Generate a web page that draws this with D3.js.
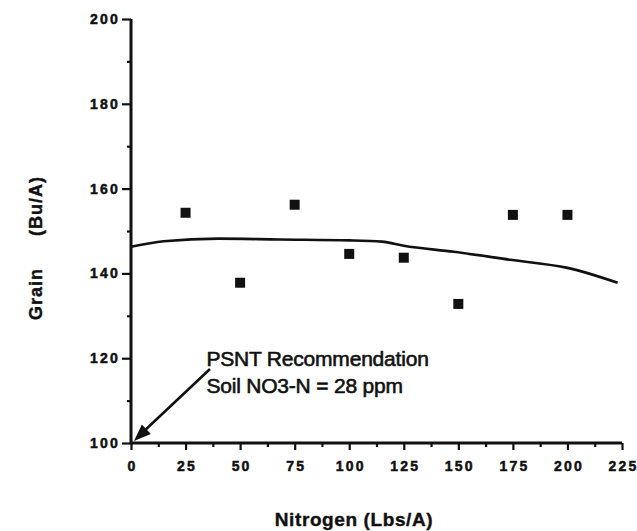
<!DOCTYPE html>
<html><head><meta charset="utf-8">
<script src="https://cdn.jsdelivr.net/npm/d3@7"></script>
<style>body{margin:0;background:#fff}svg{display:block}</style>
</head><body>
<svg id="c" width="637" height="531"></svg>
<script>
const nitrogenRates = [25, 50, 75, 100, 125, 150, 175, 200];
const grainYield = [154.3, 137.8, 156.2, 144.6, 143.7, 132.8, 153.8, 153.8];
const curveN = [0, 15, 40, 68, 100, 115, 125, 148, 174, 200, 223];
const curveYield = [146.3, 147.6, 148.2, 148.0, 147.8, 147.5, 146.5, 145.1, 143.2, 141.3, 137.8];
const xTicks = [0, 25, 50, 75, 100, 125, 150, 175, 200, 225];
const yTicks = [100, 120, 140, 160, 180, 200];
const annotationLines = ["PSNT Recommendation", "Soil NO3-N = 28 ppm"];
const yTitleParts = ["Grain", "(Bu/A)"];
const xTitle = "Nitrogen (Lbs/A)";

const svg = d3.select("#c");
const x = d3.scaleLinear().domain([0, 225]).range([131, 622]);
const y = d3.scaleLinear().domain([100, 200]).range([443, 19]);
const ink = "#111";
const font = "'Liberation Sans', Arial, sans-serif";

// y axis
const ya = svg.append("g").attr("transform", "translate(131,0)")
  .call(d3.axisLeft(y).tickValues(yTicks).tickSize(9).tickPadding(4).tickFormat(d3.format("d")));
const yMinor = svg.append("g").attr("transform", "translate(131,0)")
  .call(d3.axisLeft(y).tickValues(d3.range(110, 200, 20)).tickSize(4).tickFormat(""));
// x axis
const xa = svg.append("g").attr("transform", "translate(0,443)")
  .call(d3.axisBottom(x).tickValues(xTicks).tickSize(7).tickPadding(11).tickFormat(d3.format("d")));
const xMinor = svg.append("g").attr("transform", "translate(0,443)")
  .call(d3.axisBottom(x).tickValues(d3.range(12.5, 225, 25)).tickSize(4).tickFormat(""));

[ya, yMinor, xa, xMinor].forEach(g => {
  g.select(".domain").attr("stroke", ink).attr("stroke-width", 3);
  g.selectAll(".tick line").attr("stroke", ink).attr("stroke-width", 2.2);
  g.selectAll("text").attr("fill", ink).style("font-family", font)
    .style("font-size", "14px").style("font-weight", "bold").style("letter-spacing", "2.2px")
    .style("stroke", ink).style("stroke-width", 0.5);
});
ya.selectAll("text").attr("dx", "2px");
xa.selectAll("text").attr("dx", "1px");
ya.select(".domain").attr("d", "M0,19V443");
yMinor.select(".domain").remove();
xMinor.select(".domain").remove();
xa.select(".domain").attr("d", "M131,0H622");

// fitted curve
svg.append("path")
  .datum(curveN.map((n, i) => [n, curveYield[i]]))
  .attr("fill", "none").attr("stroke", ink).attr("stroke-width", 2.6)
  .attr("d", d3.line().x(d => x(d[0])).y(d => y(d[1])).curve(d3.curveMonotoneX));

// points
const s = 10;
svg.selectAll("rect.pt").data(nitrogenRates).join("rect").attr("class", "pt")
  .attr("x", (d) => x(d) - s / 2).attr("y", (d, i) => y(grainYield[i]) - s / 2)
  .attr("width", s).attr("height", s).attr("fill", ink);

// annotation
const tx = x(35) - 1;
annotationLines.forEach((t, i) => {
  svg.append("text").attr("x", tx).attr("y", 366 + i * 27)
    .attr("fill", ink).style("font-family", font).style("font-size", "21px")
    .style("stroke", ink).style("stroke-width", 0.6).style("letter-spacing", "-0.2px")
    .text(t);
});

// arrow
const ax0 = 210, ay0 = 369, ax1 = x(0) + 3, ay1 = y(100) - 2;
svg.append("line").attr("x1", ax0).attr("y1", ay0).attr("x2", ax1 + 8).attr("y2", ay1 - 8)
  .attr("stroke", ink).attr("stroke-width", 2.6);
const ang = Math.atan2(ay1 - ay0, ax1 - ax0);
const L = 17, W = 6.5;
const bx = ax1 - L * Math.cos(ang), by = ay1 - L * Math.sin(ang);
svg.append("path").attr("fill", ink)
  .attr("d", `M${ax1},${ay1}L${bx - W * Math.sin(ang)},${by + W * Math.cos(ang)}L${bx + W * Math.sin(ang)},${by - W * Math.cos(ang)}Z`);

// axis titles
[[yTitleParts[0], 294], [yTitleParts[1], 206]].forEach(([t, cy]) => {
  svg.append("text").attr("transform", `translate(42,${cy}) rotate(-90)`)
    .attr("text-anchor", "middle").attr("fill", ink)
    .style("font-family", font).style("font-size", "18px").style("font-weight", "bold")
    .style("letter-spacing", "1px").style("stroke", ink).style("stroke-width", 0.4)
    .text(t);
});
svg.append("text").attr("x", 354).attr("y", 526)
  .attr("text-anchor", "middle").attr("fill", ink)
  .style("font-family", font).style("font-size", "19px").style("font-weight", "bold")
  .style("letter-spacing", "0.6px").style("stroke", ink).style("stroke-width", 0.4)
  .text(xTitle);
</script>
</body></html>
